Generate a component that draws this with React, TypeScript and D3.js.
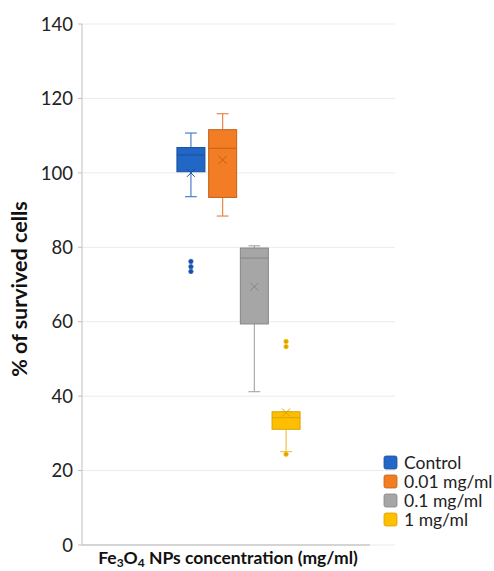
import * as d3 from "d3";
import React from "react";

// box plot summary
const series = ["Control", "0.01 mg/ml", "0.1 mg/ml", "1 mg/ml"];
const whiskerLow = [93.6, 88.4, 41.2, 25.1];
const q1 = [100.3, 93.4, 59.4, 31.1];
const median = [104.8, 106.6, 77.1, 34.2];
const q3 = [106.8, 111.6, 79.8, 35.8];
const whiskerHigh = [110.7, 115.9, 80.4, 35.8];
const means = [100.0, 103.5, 69.4, 35.6];
const outliers = [[76.2, 74.8, 73.5], [], [], [54.7, 53.3, 24.4]];
const yTicks = [0, 20, 40, 60, 80, 100, 120, 140];

const fills = ["#2266C6", "#F27D24", "#A6A6A6", "#FFBF00"];
const strokes = ["#1B4F9C", "#C0621A", "#858585", "#D9A200"];
const whiskerColors = ["#4A7FCC", "#E8864A", "#ABABAB", "#F0C24A"];

export default function App() {
  const width = 494;
  const height = 571;
  const left = 82;
  const right = 395;
  const top = 24;
  const bottom = 545;

  const y = d3.scaleLinear().domain([0, 140]).range([bottom, top]);
  const x0 = d3.scaleBand().domain(["group"]).range([left, right]).paddingInner(0).paddingOuter(0.734);
  const x1 = d3.scaleBand().domain(series).range([0, x0.bandwidth()]).paddingInner(0.117).paddingOuter(0.058);
  const bw = x1.bandwidth();
  const font = "Lato, 'Open Sans', sans-serif";

  return (
    <svg width={width} height={height} style={{ position: "absolute", left: 0, top: 0, background: "#fff" }}>
      {/* grid */}
      <g>
        {yTicks.map((t) => (
          <line key={t} x1={left} x2={right} y1={y(t)} y2={y(t)} stroke="#EBEBEB" strokeWidth={1} />
        ))}
      </g>
      {/* axes */}
      <line x1={left} x2={left} y1={y(140)} y2={y(0)} stroke="#BFBFBF" strokeWidth={1} />
      <line x1={left} x2={370} y1={y(0)} y2={y(0)} stroke="#C8C8C8" strokeWidth={1.5} />
      <g fontFamily={font} fontSize={18.5} fill="#222" textAnchor="end">
        {yTicks.map((t) => (
          <g key={t}>
            <line x1={left - 4} x2={left} y1={y(t)} y2={y(t)} stroke="#BFBFBF" />
            <text x={left - 9} y={y(t)} dy="0.36em">{t}</text>
          </g>
        ))}
      </g>
      {/* boxes */}
      {series.map((s, i) => {
        const bx = (x0("group") ?? 0) + (x1(s) ?? 0);
        const cx = bx + bw / 2;
        const cap = bw * 0.42;
        return (
          <g key={s}>
            <line x1={cx} x2={cx} y1={y(q3[i])} y2={y(whiskerHigh[i])} stroke={whiskerColors[i]} strokeWidth={1.2} />
            <line x1={cx} x2={cx} y1={y(q1[i])} y2={y(whiskerLow[i])} stroke={whiskerColors[i]} strokeWidth={1.2} />
            <line x1={cx - cap / 2} x2={cx + cap / 2} y1={y(whiskerHigh[i])} y2={y(whiskerHigh[i])} stroke={whiskerColors[i]} strokeWidth={1.2} />
            <line x1={cx - cap / 2} x2={cx + cap / 2} y1={y(whiskerLow[i])} y2={y(whiskerLow[i])} stroke={whiskerColors[i]} strokeWidth={1.2} />
            <rect x={bx} y={y(q3[i])} width={bw} height={y(q1[i]) - y(q3[i])} fill={fills[i]} stroke={strokes[i]} strokeWidth={1} />
            <line x1={bx} x2={bx + bw} y1={y(median[i])} y2={y(median[i])} stroke={strokes[i]} strokeWidth={1} />
            <path
              d={`M${cx - 4},${y(means[i]) - 4}L${cx + 4},${y(means[i]) + 4}M${cx - 4},${y(means[i]) + 4}L${cx + 4},${y(means[i]) - 4}`}
              stroke={strokes[i]}
              strokeWidth={1}
              fill="none"
            />
            {outliers[i].map((o, j) => (
              <circle key={j} cx={cx} cy={y(o)} r={2.2} fill={strokes[i]} stroke={fills[i]} strokeWidth={0.8} />
            ))}
          </g>
        );
      })}
      {/* axis titles */}
      <text
        transform={`translate(27,289) rotate(-90)`}
        textAnchor="middle"
        fontFamily={font}
        fontWeight="bold"
        fontSize={21.5}
        fill="#111"
      >
        % of survived cells
      </text>
      <text x={228} y={564} textAnchor="middle" fontFamily={font} fontWeight="bold" fontSize={17.5} fill="#111">
        Fe<tspan dy={3} fontSize={12}>3</tspan>
        <tspan dy={-3}>O</tspan>
        <tspan dy={3} fontSize={12}>4</tspan>
        <tspan dy={-3}> NPs concentration (mg/ml)</tspan>
      </text>
      {/* legend */}
      <g fontFamily={font} fontSize={17.5} fill="#222">
        {series.map((s, i) => (
          <g key={s} transform={`translate(384,${456 + i * 19})`}>
            <rect x={0} y={0} width={13} height={13} rx={2} fill={fills[i]} stroke={strokes[i]} strokeWidth={0.8} />
            <text x={20} y={7} dy="0.36em">{s}</text>
          </g>
        ))}
      </g>
    </svg>
  );
}
